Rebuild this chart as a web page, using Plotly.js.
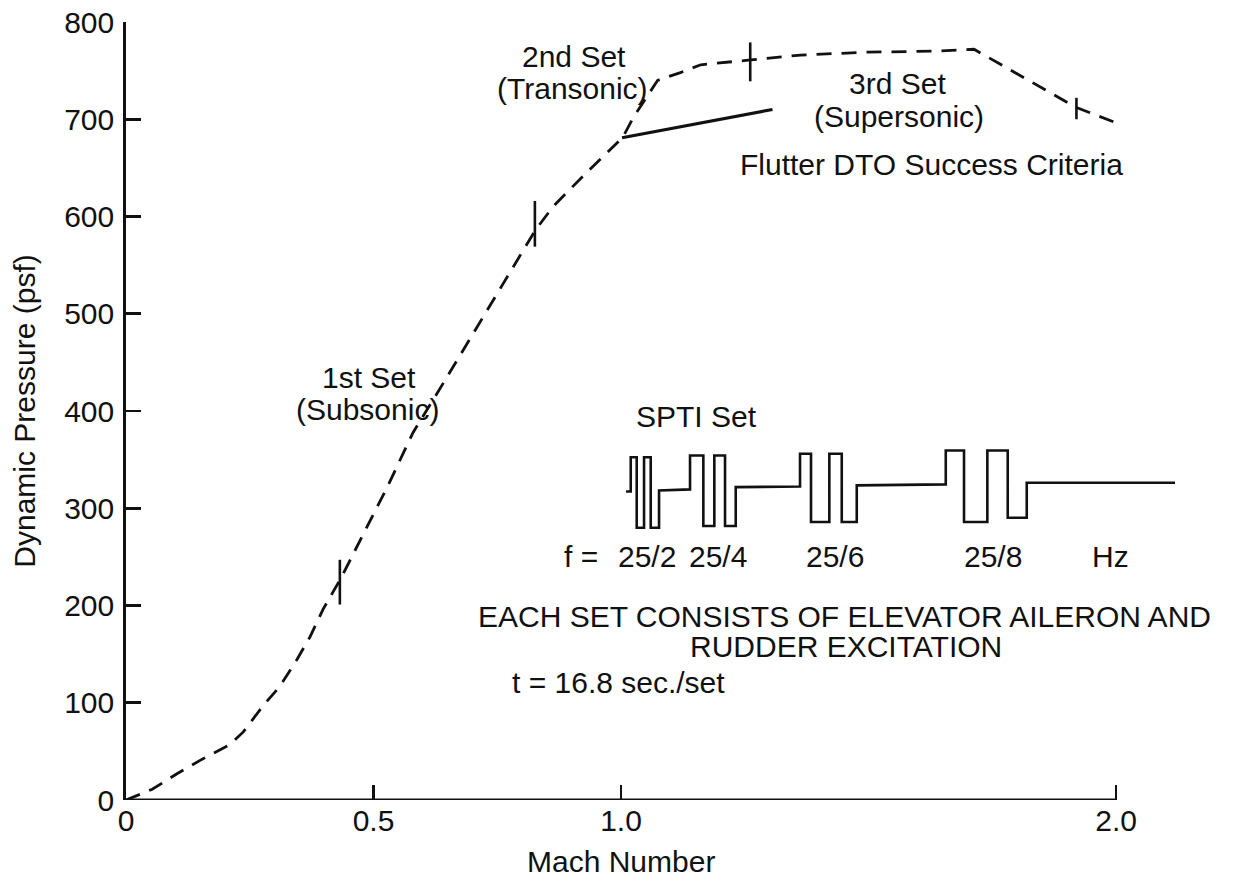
<!DOCTYPE html>
<html>
<head>
<meta charset="utf-8">
<script src="https://cdn.plot.ly/plotly-3.0.1.min.js"></script>
<style>
  html, body { margin: 0; padding: 0; background: #fff; }
  #chart { width: 1234px; height: 882px; }
</style>
</head>
<body>
<div id="chart"></div>
<script>
// ---- Data ----
// Flight envelope (dashed curve): Mach number vs dynamic pressure (psf)
var envelopeMach = [0, 0.053, 0.103, 0.154, 0.21, 0.237, 0.277, 0.311, 0.346, 0.372, 0.398, 0.433, 0.453,
                    0.528, 0.58, 0.645, 0.827, 0.864, 0.93, 1.003, 1.025, 1.046, 1.074, 1.12, 1.161,
                    1.262, 1.363, 1.498, 1.632, 1.713, 1.92, 2.012];
var envelopeQ    = [0, 11, 27, 42, 57, 70, 97, 117, 145, 168, 196, 227, 247,
                    322, 378, 432, 586, 611, 645, 681, 702, 718, 740, 748, 756,
                    761, 766, 769, 770, 772, 712, 694];

// Set boundary marks on the curve (short vertical bars)
var setMarkMach = [0.432, 0.826, 1.261, 1.92];
var setMarkLow  = [201, 569, 739, 700];
var setMarkHigh = [247, 616, 779, 722];

// Flutter DTO success criteria (solid line)
var criteriaMach = [1.002, 1.306];
var criteriaQ    = [681, 710];

// SPTI set waveform
var sptiMach = [1.0101, 1.0196, 1.0196, 1.0317, 1.0317, 1.0465, 1.0465, 1.0600, 1.0600, 1.0768, 1.0768,
                1.1394, 1.1394, 1.1663, 1.1663, 1.1885, 1.1885, 1.2101, 1.2101, 1.2317, 1.2317,
                1.3616, 1.3616, 1.3838, 1.3838, 1.4208, 1.4208, 1.4459, 1.4459, 1.4762, 1.4762,
                1.6560, 1.6560, 1.6929, 1.6929, 1.7400, 1.7400, 1.7812, 1.7812, 1.8196, 1.8196, 2.1192];
var sptiQ    = [317.3, 317.3, 352.5, 352.5, 280.0, 280.0, 352.5, 352.5, 280.0, 280.0, 318.3,
                319.4, 354.3, 354.3, 281.7, 281.7, 354.3, 354.3, 281.7, 281.7, 321.7,
                322.4, 356.0, 356.0, 285.8, 285.8, 356.0, 356.0, 285.8, 285.8, 323.5,
                324.5, 359.4, 359.4, 285.8, 285.8, 359.4, 359.4, 290.3, 290.3, 326.2, 326.2];

// Frequency labels under the waveform
var freqLabels = ['f =', '25/2', '25/4', '25/6', '25/8', 'Hz'];
var freqMach   = [0.919, 1.052, 1.196, 1.432, 1.751, 1.989];

// Axis ticks
var xTickVals = [0, 0.5, 1.0, 2.0];
var xTickText = ['0', '0.5', '1.0', '2.0'];
var yTickVals = [0, 100, 200, 300, 400, 500, 600, 700, 800];

// ---- Build traces ----
var FONT = 'Liberation Sans, Arial, Helvetica, sans-serif';
var BLACK = '#111';
var FS = 30;

var markX = [], markY = [];
for (var i = 0; i < setMarkMach.length; i++) {
  markX.push(setMarkMach[i], setMarkMach[i], null);
  markY.push(setMarkLow[i], setMarkHigh[i], null);
}

var traces = [
  {
    x: envelopeMach, y: envelopeQ, type: 'scatter', mode: 'lines',
    line: { color: BLACK, width: 2.8, dash: '15px,10px' },
    hoverinfo: 'skip', showlegend: false
  },
  {
    x: markX, y: markY, type: 'scatter', mode: 'lines',
    line: { color: BLACK, width: 2.6 }, hoverinfo: 'skip', showlegend: false
  },
  {
    x: criteriaMach, y: criteriaQ, type: 'scatter', mode: 'lines',
    line: { color: BLACK, width: 3.2 }, hoverinfo: 'skip', showlegend: false
  },
  {
    x: sptiMach, y: sptiQ, type: 'scatter', mode: 'lines',
    line: { color: BLACK, width: 2.6 }, hoverinfo: 'skip', showlegend: false
  },
  // x axis line drawn from 0 to 2.0 only, as in the reference
  {
    x: [0, 2.0], y: [0, 0], type: 'scatter', mode: 'lines',
    line: { color: BLACK, width: 2.8 }, hoverinfo: 'skip', showlegend: false, cliponaxis: false
  }
];

var annotations = [];
function addText(txt, x, y) {
  annotations.push({ text: txt, x: x, y: y, xref: 'x', yref: 'y', showarrow: false,
                     xanchor: 'center', yanchor: 'middle', borderpad: 0,
                     font: { family: FONT, size: FS, color: BLACK } });
}
addText('1st Set', 0.49, 434.7);
addText('(Subsonic)', 0.488, 401.8);
addText('2nd Set', 0.904, 764.8);
addText('(Transonic)', 0.902, 732.0);
addText('3rd Set', 1.559, 736.5);
addText('(Supersonic)', 1.561, 702.5);
addText('Flutter DTO Success Criteria', 1.628, 653);
addText('SPTI Set', 1.152, 394);
for (var k = 0; k < freqLabels.length; k++) addText(freqLabels[k], freqMach[k], 250.5);
addText('EACH SET CONSISTS OF ELEVATOR AILERON AND', 1.452, 189);
addText('RUDDER EXCITATION', 1.454, 157.5);
addText('t = 16.8 sec./set', 0.995, 121);

// x-axis title placed under Mach 1.0 as in the reference
annotations.push({ text: 'Mach Number', x: 1.0, y: 0, xref: 'x', yref: 'paper', yshift: -61,
                   showarrow: false, xanchor: 'center', yanchor: 'middle',
                   font: { family: FONT, size: FS, color: BLACK } });

var layout = {
  width: 1234, height: 882,
  margin: { l: 126, r: 14, t: 22, b: 82 },
  paper_bgcolor: '#fff', plot_bgcolor: '#fff',
  font: { family: FONT, size: FS, color: BLACK },
  showlegend: false,
  xaxis: {
    range: [0, 2.21], showgrid: false, zeroline: false, showline: false,
    tickmode: 'array', tickvals: xTickVals, ticktext: xTickText,
    ticks: 'inside', ticklen: 15, tickwidth: 2.6, tickcolor: BLACK,
    tickfont: { family: FONT, size: FS, color: BLACK },
    fixedrange: true
  },
  yaxis: {
    range: [0, 800], showgrid: false, zeroline: false,
    showline: true, linecolor: BLACK, linewidth: 2.8,
    tickmode: 'array', tickvals: yTickVals,
    ticks: 'inside', ticklen: 15, tickwidth: 2.6, tickcolor: BLACK,
    ticklabelstandoff: 3,
    tickfont: { family: FONT, size: FS, color: BLACK },
    title: { text: 'Dynamic Pressure (psf)', font: { family: FONT, size: FS, color: BLACK }, standoff: 20 },
    fixedrange: true
  },
  annotations: annotations
};

Plotly.newPlot('chart', traces, layout, { displayModeBar: false, staticPlot: true });
</script>
</body>
</html>
